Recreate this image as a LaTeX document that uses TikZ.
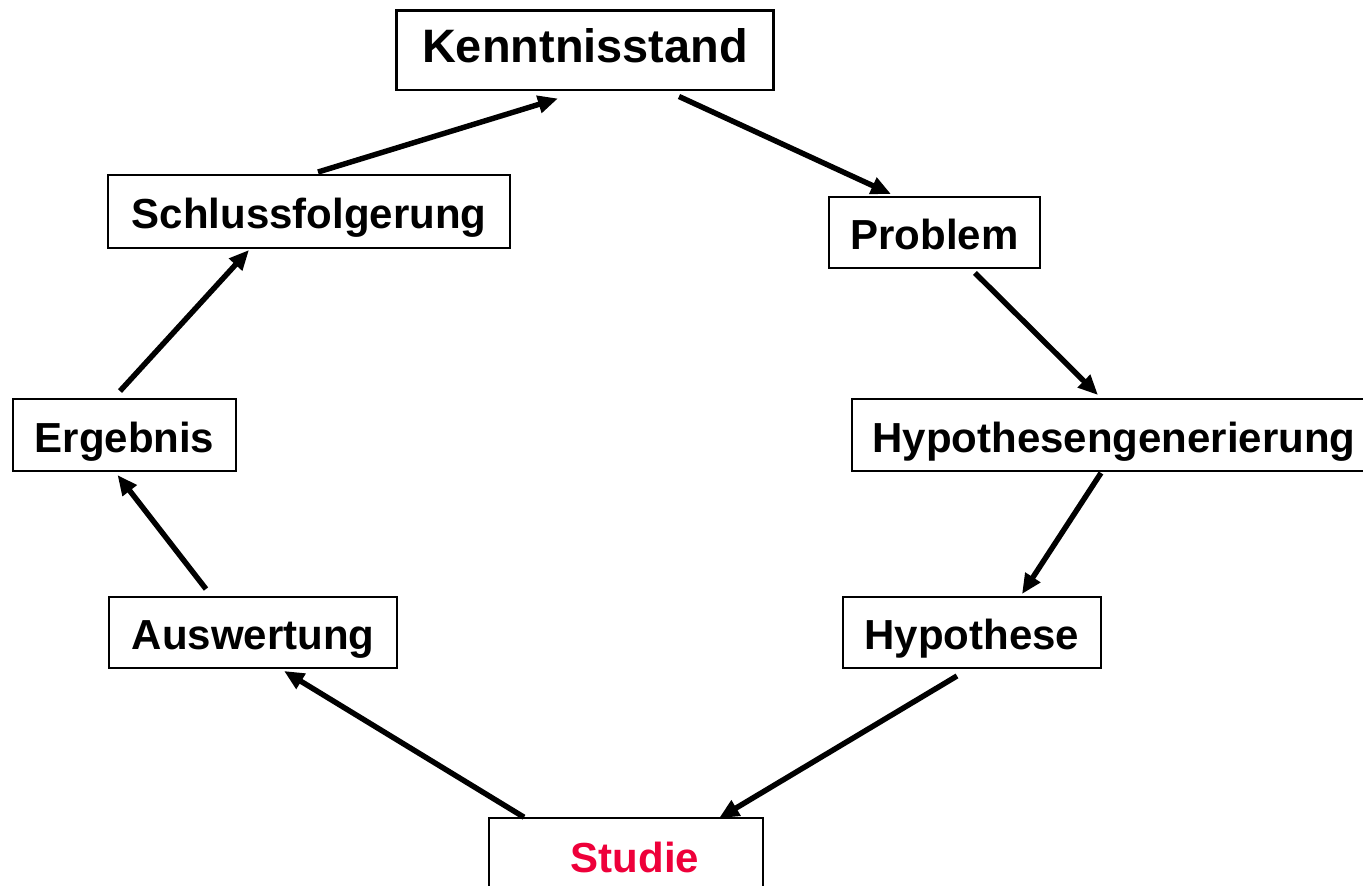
\documentclass[tikz,border=0pt]{standalone}
\usepackage{fontspec}
\setmainfont{Liberation Sans}
\usepackage{tikz}
\usetikzlibrary{arrows.meta}
\usetikzlibrary{calc}
\usepackage{xcolor}
\definecolor{studiered}{RGB}{238,0,58}

\begin{document}
\begin{tikzpicture}[x=0.02cm,y=-0.02cm,
		stage/.style={draw,line width=1.1pt,inner sep=0pt,text height=19.8pt,text depth=0pt,
			font=\bfseries\fontsize{23.9pt}{28pt}\selectfont},
		topstage/.style={stage,line width=1.7pt,text height=14.7pt,
			font=\bfseries\fontsize{26.7pt}{31pt}\selectfont},
		flow/.style={line width=3.1pt,-{Triangle[length=0.4cm,width=0.34cm]}}]
		
		\useasboundingbox (0,0) rectangle (1363,886);
		
		% Top of the cycle
		\node[topstage,minimum width=7.56cm,minimum height=1.6cm] (kenn) at (585,50) {Kenntnisstand};
		
		% Right side
		\node[stage,minimum width=4.22cm,minimum height=1.42cm] (problem) at (934.5,232.5) {Problem};
		\node[stage,minimum width=10.48cm,minimum height=1.44cm] (hypgen) at (1114,435) {Hypothesengenerierung};
		\node[stage,minimum width=5.16cm,minimum height=1.42cm] (hypo) at (972,632.5) {Hypothese};
		
		% Bottom (cut off at the lower edge)
		\node[stage,line width=0.9pt,minimum width=5.48cm,minimum height=1.48cm,text=studiered] (studie) at (626,855) {\hspace*{0.36cm}Studie};
		
		% Left side
		\node[stage,minimum width=5.76cm,minimum height=1.42cm] (ausw) at (253,632.5) {Auswertung};
		\node[stage,minimum width=4.46cm,minimum height=1.44cm] (ergebnis) at (124.5,435) {Ergebnis};
		\node[stage,minimum width=8.04cm,minimum height=1.46cm] (schluss) at (309,211.5) {Schlussfolgerung};
		
		% Arrows, clockwise
		\draw[flow] ($(kenn.south)+(94,5)$) -- ($(problem.north)+(-43.5,-2)$);
		\draw[flow] ($(problem.south)+(40.5,4)$) -- ($(hypgen.north)+(-16,-3)$);
		\draw[flow] ($(hypgen.south)+(-13,1)$) -- ($(hypo.north)+(50,-2)$);
		\draw[flow] ($(hypo.south)+(-15,7)$) -- ($(studie.north)+(93,1)$);
		\draw[flow] ($(studie.north)+(-102,0)$) -- ($(ausw.south)+(31,2)$);
		\draw[flow] ($(ausw.north)+(-47,-7)$) -- ($(ergebnis.south)+(-7,3)$);
		\draw[flow] ($(ergebnis.north)+(-4.5,-7)$) -- ($(schluss.south)+(-60,1)$);
		\draw[flow] ($(schluss.north)+(9,-2)$) -- ($(kenn.south)+(-27,7)$);
		
\end{tikzpicture}
\end{document}
